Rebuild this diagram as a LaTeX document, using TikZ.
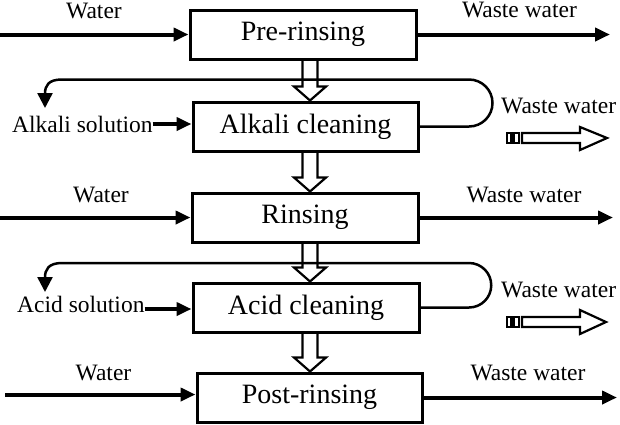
\documentclass[tikz,border=0pt]{standalone}
\usepackage{fontspec}
\setmainfont{Liberation Serif}
\usetikzlibrary{arrows.meta,calc}
\newcommand{\hollowdown}[2]{%
  \draw[hollow] let \p1=(#1 -| ax), \p2=(#2 -| ax) in
    (\x1-7.5pt,\y1) -- (\x1-7.5pt,\y2+14pt) -- (\x1-16pt,\y2+14pt) -- (\x1,\y2)
    -- (\x1+16pt,\y2+14pt) -- (\x1+7.5pt,\y2+14pt) -- (\x1+7.5pt,\y1);}
\begin{document}
\begin{tikzpicture}[x=1pt,y=-1pt,
  box/.style={draw,line width=3pt,minimum width=226pt,minimum height=49pt,inner sep=0pt,
    font=\fontsize{28}{30}\selectfont},
  lbl/.style={inner sep=0pt,font=\fontsize{23.5}{26}\selectfont},
  flow/.style={line width=4pt,-{Triangle[length=15pt,width=13pt]}},
  loopl/.style={line width=2.5pt,-{Triangle[length=15pt,width=15pt]}},
  hollow/.style={draw,fill=white,line width=2.2pt,line join=miter},
]
\useasboundingbox (0,0) rectangle (620,424);
\coordinate (ax) at (310,0);
\coordinate (L) at (0,0);
\coordinate (L5) at (5,0);
\coordinate (lx) at (469,0);
\coordinate (R1) at (610,0);
\coordinate (R3) at (613,0);
\coordinate (R5) at (617,0);
\coordinate (tipA) at (45,108);
\coordinate (tipB) at (45,292);

% box positions
\path (303,34.5) coordinate (c1) (305.5,126.5) coordinate (c2) (305,217.5) coordinate (c3)
      (306,307.5) coordinate (c4) (309.5,397.5) coordinate (c5);
\path node[box,draw=none] (b1) at (c1) {} node[box,draw=none,minimum width=225pt] (b2) at (c2) {}
      node[box,draw=none] (b3) at (c3) {} node[box,draw=none] (b4) at (c4) {}
      node[box,draw=none,minimum width=225pt] (b5) at (c5) {};

% hollow process arrows
\hollowdown{b1.south}{b2.north}
\hollowdown{b2.south}{b3.north}
\hollowdown{b3.south}{b4.north}
\hollowdown{b4.south}{b5.north}

% boxes drawn
\node[box] at (c1) {Pre-rinsing};
\node[box,minimum width=225pt] at (c2) {Alkali cleaning};
\node[box] at (c3) {Rinsing};
\node[box] at (c4) {Acid cleaning};
\node[box,minimum width=225pt] at (c5) {Post-rinsing};

% labels
\node[lbl,anchor=base] (w1) at (94,18) {Water};
\node[lbl,anchor=base] (ww1) at (519.5,17) {Waste water};
\node[lbl,anchor=west] (alk) at (12,124) {Alkali solution};
\node[lbl,anchor=base west] (ww2) at (501,113) {Waste water};
\node[lbl,anchor=base] (w3) at (101,202) {Water};
\node[lbl,anchor=base] (ww3) at (524,202) {Waste water};
\node[lbl,anchor=west] (acid) at (17,304) {Acid solution};
\node[lbl,anchor=base west] (ww4) at (501,297) {Waste water};
\node[lbl,anchor=base] (w5) at (103.5,380) {Water};
\node[lbl,anchor=base] (ww5) at (528,380) {Waste water};

% flows
\draw[flow] (L |- b1.west) -- (b1.west);
\draw[flow] (b1.east) -- (R1 |- b1.east);
\draw[flow] (alk.east) -- (alk.east -| b2.west);
\draw[flow] (L |- b3.west) -- (b3.west);
\draw[flow] (b3.east) -- (R3 |- b3.east);
\draw[flow] ([yshift=-5pt]acid.east) -- ([yshift=-5pt]acid.east -| b4.west);
\draw[flow] ([yshift=3pt]L5 |- b5.west) -- ([yshift=3pt]b5.west);
\draw[flow] (b5.east) -- (R5 |- b5.east);

% recirculation loops
\draw[loopl] (b2.east) -- (b2.east -| lx) arc[start angle=-90,end angle=90,radius=23.5pt]
  -- (62,79.5) .. controls (48,79.5) and (45,86) .. (tipA);
\draw[loopl] (b4.east) -- (b4.east -| lx) arc[start angle=-90,end angle=90,radius=22.25pt]
  -- (62,263) .. controls (48,263) and (45,270) .. (tipB);

% waste water outlet arrows
\draw[hollow] (507,133) rectangle (511,143);
\draw[hollow] (513.5,133) rectangle (519,143);
\draw[hollow] (522,133) -- (580,133) -- (580,127) -- (607,138) -- (580,150) -- (580,143) -- (522,143) -- cycle;
\draw[hollow] (507,317) rectangle (511,327);
\draw[hollow] (513.5,317) rectangle (519,327);
\draw[hollow] (522,317) -- (580,317) -- (580,310) -- (606,322) -- (580,334) -- (580,327) -- (522,327) -- cycle;
\end{tikzpicture}
\end{document}
